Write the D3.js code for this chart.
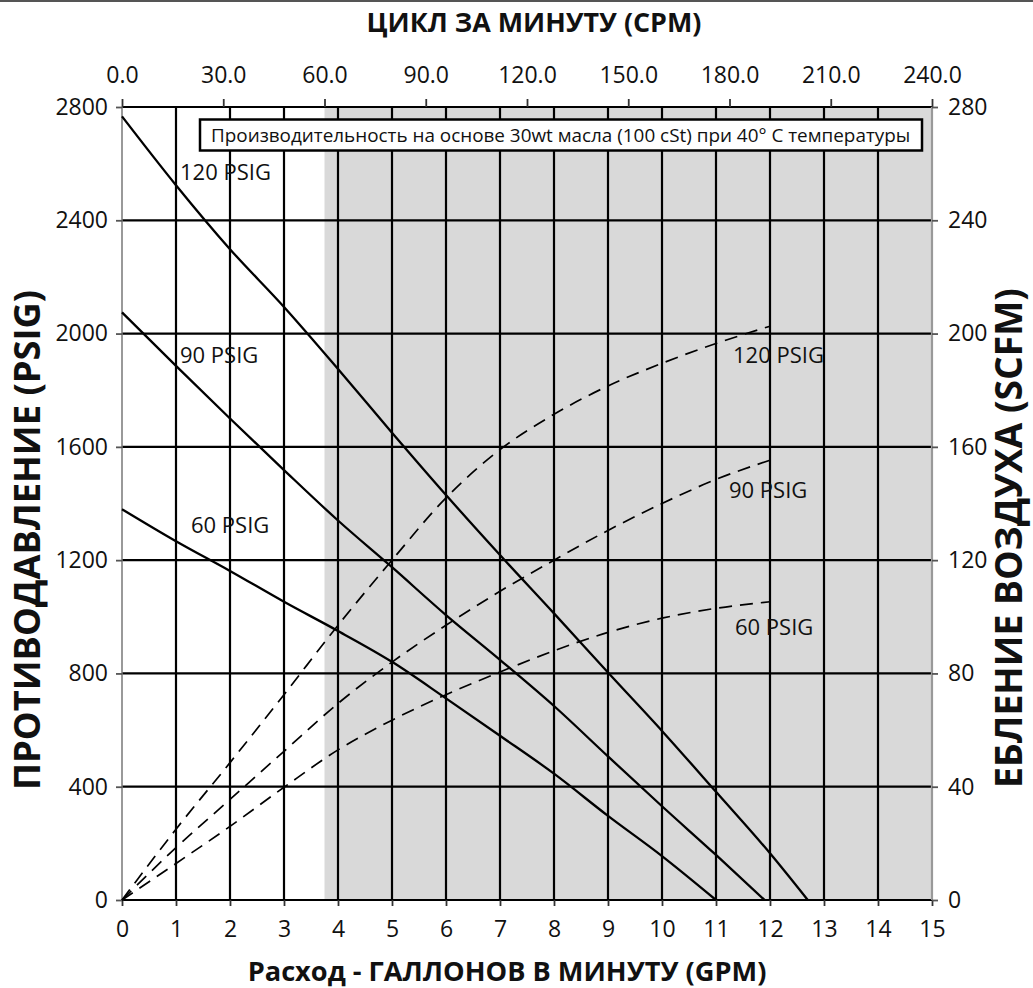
<!DOCTYPE html>
<html><head><meta charset="utf-8">
<script src="https://cdn.jsdelivr.net/npm/d3@7"></script>
<style>body{margin:0;background:#fff}text{font-family:"Open Sans",sans-serif}</style>
</head><body><svg id="c" width="1033" height="988"></svg>
<script>
// ---- data ----
const gpmTicks = [0,1,2,3,4,5,6,7,8,9,10,11,12,13,14,15];
const cpmTicks = [0,30,60,90,120,150,180,210,240];
const psigTicks = [0,400,800,1200,1600,2000,2400,2800];
const scfmTicks = [0,40,80,120,160,200,240,280];

const bp120X = [0,1,2,3,4,5,6,7,8,9,10,11,12,12.7];
const bp120Y = [2767,2524,2298,2094,1875,1650,1430,1218,1012,803,597,382,165,0];
const bp90X  = [0,1,2,3,4,5,6,7,8,9,10,11,11.9];
const bp90Y  = [2075,1886,1700,1518,1340,1175,1006,848,685,507,331,159,0];
const bp60X  = [0,1,2,3,4,5,6,7,8,9,10,11];
const bp60Y  = [1380,1267,1162,1053,950,841,712,580,446,297,155,0];

const airX   = [0,1,2,3,4,5,6,7,8,9,10,11,12];
const air120 = [0,25,48.5,72.5,97,120,142,159,171.5,181.5,189.5,196.5,202.6];
const air90  = [0,18.5,35.5,52.5,69.4,84,97,109,120,130.5,140,148.5,155.3];
const air60  = [0,12.9,26,39.8,53,63.5,72.5,80.5,88,94.5,99.5,103,105.3];

const shadeFromCPM = 60;
const topTitle = "ЦИКЛ ЗА МИНУТУ (CPM)";
const bottomTitle = "Расход - ГАЛЛОНОВ В МИНУТУ (GPM)";
const leftTitle = "ПРОТИВОДАВЛЕНИЕ (PSIG)";
const rightTitle = "ЕБЛЕНИЕ ВОЗДУХА (SCFM)";
const noteText = "Производительность на основе 30wt масла (100 cSt) при 40° C температуры";
const leftLabels = ["120 PSIG","90 PSIG","60 PSIG"];
const rightLabels = ["120 PSIG","90 PSIG","60 PSIG"];

// ---- layout ----
const svg = d3.select("#c");
const L=122, R=932, T=107, B=900;
const x = d3.scaleLinear().domain([0,15]).range([L,R]);
const xc = d3.scaleLinear().domain([0,240]).range([L,R]);
const y = d3.scaleLinear().domain([0,2800]).range([B,T]);
const y2 = d3.scaleLinear().domain([0,280]).range([B,T]);

function fit(t,w){const l=t.node().getComputedTextLength();const fs=parseFloat(t.attr("font-size"));t.attr("font-size",fs*w/l);}

// top border
svg.append("line").attr("x1",0).attr("x2",1033).attr("y1",1).attr("y2",1).attr("stroke","#555").attr("stroke-width",2);

// shading
svg.append("rect").attr("x",xc(shadeFromCPM)).attr("y",T).attr("width",R-xc(shadeFromCPM)).attr("height",B-T).attr("fill","#d9d9d9");

// gridlines
const g = svg.append("g").attr("stroke","#000").attr("stroke-width",2.2);
gpmTicks.filter(d=>d>0&&d<15).forEach(d=>g.append("line").attr("x1",x(d)).attr("x2",x(d)).attr("y1",T).attr("y2",B));
psigTicks.forEach(d=>g.append("line").attr("x1",L).attr("x2",R).attr("y1",y(d)).attr("y2",y(d)));
// side axis lines
svg.append("line").attr("x1",L).attr("x2",L).attr("y1",T).attr("y2",B).attr("stroke","#777").attr("stroke-width",1.5);
svg.append("line").attr("x1",R).attr("x2",R).attr("y1",T).attr("y2",B).attr("stroke","#999").attr("stroke-width",2.2);

function styleAxis(sel,col){sel.select(".domain").remove();sel.selectAll(".tick line").attr("stroke",col).attr("stroke-width",1.8);sel.selectAll("text").attr("font-size",23).attr("fill","#111").attr("font-family","Open Sans");}

const ax1 = svg.append("g").attr("transform",`translate(0,${B})`).call(d3.axisBottom(x).tickValues(gpmTicks).tickSize(6).tickPadding(14.5).tickFormat(d3.format("d")));
styleAxis(ax1,"#333");
const ax2 = svg.append("g").attr("transform",`translate(0,${T})`).call(d3.axisTop(xc).tickValues(cpmTicks).tickSize(8).tickPadding(16).tickFormat(d3.format(".1f")));
styleAxis(ax2,"#333");
const ax3 = svg.append("g").attr("transform",`translate(${L},0)`).call(d3.axisLeft(y).tickValues(psigTicks).tickSize(6).tickPadding(8).tickFormat(d3.format("d")));
styleAxis(ax3,"#555");
const ax4 = svg.append("g").attr("transform",`translate(${R},0)`).call(d3.axisRight(y2).tickValues(scfmTicks).tickSize(6).tickPadding(10).tickFormat(d3.format("d")));
styleAxis(ax4,"#555");

// curves
const lineP = d3.line().x(d=>x(d[0])).y(d=>y(d[1])).curve(d3.curveMonotoneX);
const lineA = d3.line().x(d=>x(d[0])).y(d=>y2(d[1])).curve(d3.curveMonotoneX);
[[bp120X,bp120Y],[bp90X,bp90Y],[bp60X,bp60Y]].forEach(([xs,ys])=>{
  svg.append("path").attr("d",lineP(d3.zip(xs,ys))).attr("fill","none").attr("stroke","#000").attr("stroke-width",2.3);
});
[air120,air90,air60].forEach(ys=>{
  svg.append("path").attr("d",lineA(d3.zip(airX,ys))).attr("fill","none").attr("stroke","#000").attr("stroke-width",1.7).attr("stroke-dasharray","13,8");
});

// note box
svg.append("rect").attr("x",200).attr("y",119.5).attr("width",722).attr("height",31).attr("fill","#fff").attr("stroke","#000").attr("stroke-width",2.5);
const nt = svg.append("text").attr("x",211).attr("y",142).attr("font-size",17).attr("fill","#111").text(noteText);
fit(nt,700);

// series labels
const lp = [[180,180],[180,363],[191,533]];
leftLabels.forEach((t,i)=>svg.append("text").attr("x",lp[i][0]).attr("y",lp[i][1]).attr("font-size",22).attr("fill","#111").text(t));
const rp = [[733,363],[729,498],[735,635]];
rightLabels.forEach((t,i)=>svg.append("text").attr("x",rp[i][0]).attr("y",rp[i][1]).attr("font-size",22).attr("fill","#111").text(t));

// titles
const tt = svg.append("text").attr("x",534).attr("y",32).attr("text-anchor","middle").attr("font-size",24).attr("font-weight","bold").attr("fill","#111").text(topTitle);
fit(tt,335);
const bt = svg.append("text").attr("x",507).attr("y",981).attr("text-anchor","middle").attr("font-size",24).attr("font-weight","bold").attr("fill","#111").text(bottomTitle);
fit(bt,519);
const lt = svg.append("text").attr("transform","translate(40,540) rotate(-90)").attr("text-anchor","middle").attr("font-size",24).attr("font-weight","bold").attr("fill","#111").text(leftTitle);
fit(lt,500);
const rt = svg.append("text").attr("transform","translate(1022,538) rotate(-90)").attr("text-anchor","middle").attr("font-size",24).attr("font-weight","bold").attr("fill","#111").text(rightTitle);
fit(rt,500);
</script></body></html>
